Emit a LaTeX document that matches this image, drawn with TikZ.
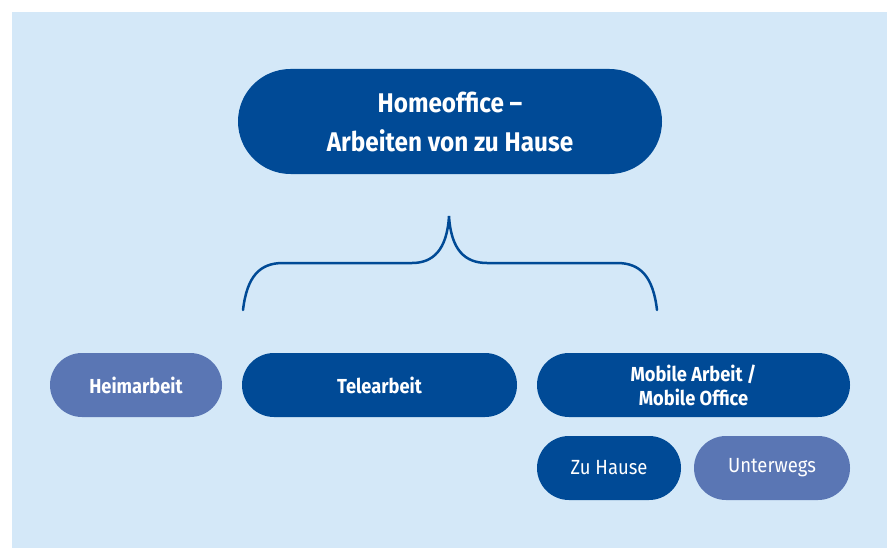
\documentclass[tikz,border=0pt]{standalone}
\usepackage{fontspec}
\setmainfont{Fira Sans}[FakeStretch=0.9]
\definecolor{bgblue}{HTML}{D4E8F8}
\definecolor{darkblue}{HTML}{004A96}
\definecolor{midblue}{HTML}{5A76B4}
\begin{document}
\begin{tikzpicture}[x=1pt,y=-1pt,
  pill/.style={fill=darkblue, text=white, inner sep=0pt, align=center},
  pilllight/.style={pill, fill=midblue},
  small/.style={font=\fontsize{20.5}{24}\selectfont},
  smallbold/.style={font=\fontsize{20.3}{24}\selectfont\bfseries},
  brace/.style={draw=darkblue, line width=2.5pt, line cap=round}]
\useasboundingbox (0,0) rectangle (890,548);
\fill[bgblue] (12,12) rectangle (887,548);
\node[pill, minimum width=424pt, minimum height=105pt, rounded corners=52.5pt,
  font=\fontsize{27}{39}\selectfont\bfseries] (top) at (450,121.5)
  {Homeoffice --\\Arbeiten von zu Hause};
\node[pilllight, smallbold, minimum width=172pt, minimum height=64pt, rounded corners=32pt] (heim) at (136,385) {Heimarbeit};
\node[pill, smallbold, minimum width=275pt, minimum height=64pt, rounded corners=32pt] (tele) at (379.5,385) {Telearbeit};
\node[pill, smallbold, minimum width=313pt, minimum height=64pt, rounded corners=32pt] (mobil) at (693.5,385) {Mobile Arbeit /\\Mobile Office};
\node[pill, small, minimum width=144pt, minimum height=64pt, rounded corners=32pt] (zuhause) at (609,468) {Zu Hause};
\node[pilllight, small, minimum width=156pt, minimum height=64pt, rounded corners=32pt] (unterwegs) at (772,468) {Unterwegs};
\draw[brace] (243,310) .. controls (247,276) and (260,263) .. (283,263) -- (412,263)
  .. controls (433,263) and (447,250) .. (449,216)
  .. controls (451,250) and (465,263) .. (487,263) -- (617,263)
  .. controls (640,263) and (653,276) .. (657,310);
\end{tikzpicture}
\end{document}
